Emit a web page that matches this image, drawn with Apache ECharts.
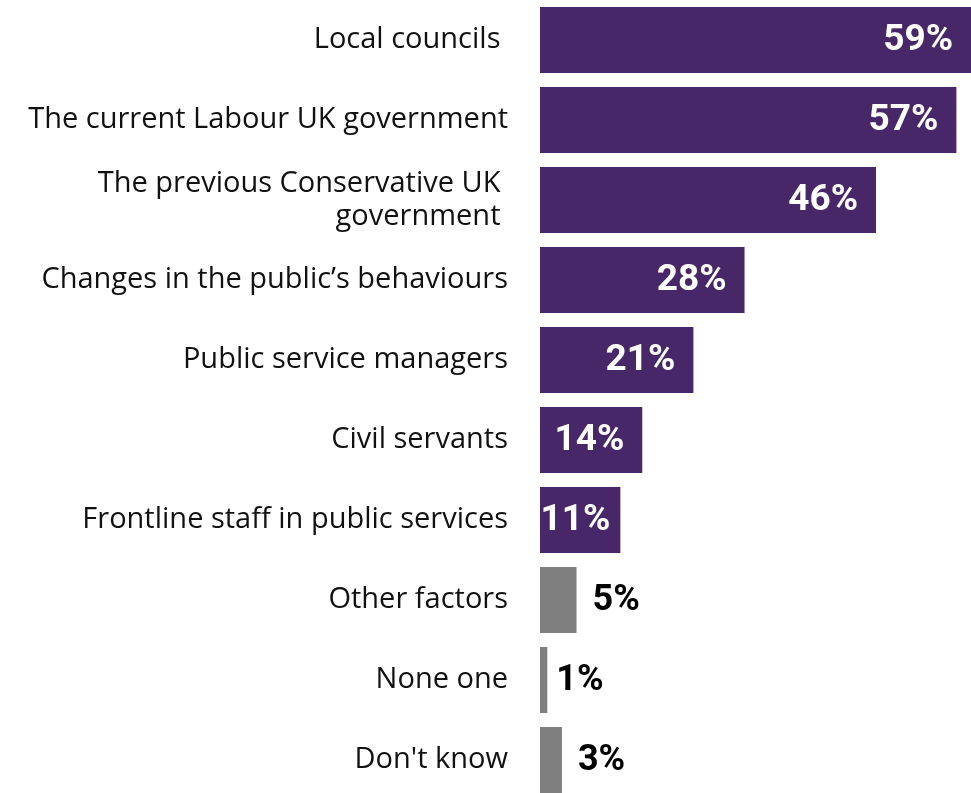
<!DOCTYPE html>
<html>
<head>
<meta charset="utf-8">
<script src="https://cdn.jsdelivr.net/npm/echarts@6/dist/echarts.min.js"></script>
<style>
  html, body { margin: 0; padding: 0; background: #ffffff; overflow: hidden; }
  #chart { width: 971px; height: 800px; }
</style>
</head>
<body>
<div id="chart"></div>
<script>
// Responses blaming an actor (purple)
const actorCategories = [
  'Local councils ',
  'The current Labour UK government',
  'The previous Conservative UK \ngovernment ',
  'Changes in the public\u2019s behaviours',
  'Public service managers',
  'Civil servants',
  'Frontline staff in public services'
];
const actorValues = [59, 57, 46, 28, 21, 14, 11];

// Other responses (grey)
const otherCategories = ['Other factors', 'None one', "Don't know"];
const otherValues = [5, 1, 3];

const categories = actorCategories.concat(otherCategories);
const PURPLE = '#472767';
const GREY = '#7f7f7f';

const seriesData = actorValues.map(function (v) {
  return {
    value: v,
    itemStyle: { color: PURPLE },
    label: {
      position: 'insideRight',
      distance: v < 12 ? 10 : 18,
      color: '#ffffff',
      fontSize: 37
    }
  };
}).concat(otherValues.map(function (v) {
  return {
    value: v,
    itemStyle: { color: GREY },
    label: {
      position: 'right',
      distance: v < 2 ? 9 : 16,
      color: '#000000',
      fontSize: 36
    }
  };
}));

const chart = echarts.init(document.getElementById('chart'), null, { renderer: 'canvas' });
chart.setOption({
  animation: false,
  backgroundColor: '#ffffff',
  grid: { left: 540, right: 0, top: 0, bottom: 0, containLabel: false },
  xAxis: {
    type: 'value',
    min: 0,
    max: 'dataMax',
    show: false
  },
  yAxis: {
    type: 'category',
    data: categories,
    inverse: true,
    axisLine: { show: false },
    axisTick: { show: false },
    splitLine: { show: false },
    axisLabel: {
      margin: 32,
      color: '#111111',
      fontFamily: 'Open Sans',
      fontSize: 29,
      lineHeight: 33,
      align: 'right',
      padding: [3, 0, 0, 0]
    }
  },
  series: [{
    type: 'bar',
    barWidth: 66,
    data: seriesData,
    label: {
      show: true,
      formatter: '{c}%',
      fontFamily: 'Roboto',
      fontWeight: 'bold',
      offset: [0, 1]
    }
  }]
});
</script>
</body>
</html>
